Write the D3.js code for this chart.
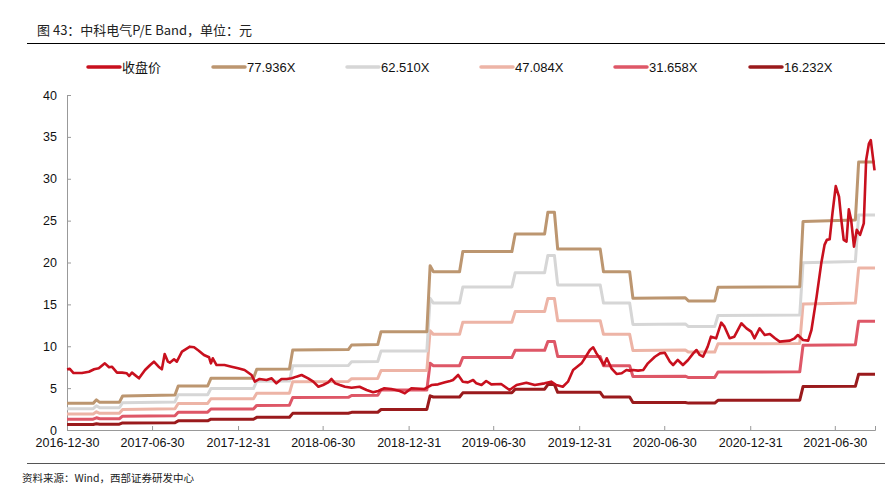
<!DOCTYPE html>
<html>
<head>
<meta charset="utf-8">
<script src="https://cdn.jsdelivr.net/npm/d3@7"></script>
<style>
  body { margin: 0; background: #fff; }
  svg { display: block; }
  text { font-family: "Liberation Sans", Arial, sans-serif; }
  .cjk { font-family: "Noto Sans CJK SC", sans-serif; }
</style>
</head>
<body>
<svg id="chart" width="891" height="486"></svg>
<script>
// closing price, weekly samples
const price = [
  ["2016-12-30", 7.25], ["2017-01-05", 7.3], ["2017-01-13", 6.8], ["2017-01-31", 6.8],
  ["2017-02-15", 6.96], ["2017-02-26", 7.25], ["2017-03-08", 7.37], ["2017-03-21", 7.96],
  ["2017-03-30", 7.5], ["2017-04-05", 7.56], ["2017-04-16", 6.85], ["2017-04-27", 6.85],
  ["2017-05-07", 6.77], ["2017-05-12", 6.45], ["2017-05-18", 6.85], ["2017-06-02", 6.17],
  ["2017-06-15", 7.16], ["2017-06-26", 7.76], ["2017-07-04", 8.16], ["2017-07-14", 7.56],
  ["2017-07-21", 7.25], ["2017-07-27", 9.07], ["2017-08-03", 8.16], ["2017-08-07", 8.04],
  ["2017-08-16", 8.44], ["2017-08-22", 8.16], ["2017-09-02", 9.35], ["2017-09-19", 9.95],
  ["2017-09-28", 9.88], ["2017-10-08", 9.47], ["2017-10-19", 8.96], ["2017-10-30", 8.68],
  ["2017-11-03", 7.96], ["2017-11-07", 8.56], ["2017-11-15", 7.76], ["2017-12-02", 7.76],
  ["2017-12-17", 7.56], ["2017-12-31", 7.37], ["2018-01-14", 7.16], ["2018-01-29", 6.57],
  ["2018-02-05", 5.77], ["2018-02-15", 6.09], ["2018-03-02", 5.97], ["2018-03-13", 6.17],
  ["2018-03-23", 5.57], ["2018-04-03", 6.09], ["2018-04-14", 6.09], ["2018-04-25", 6.17],
  ["2018-05-05", 6.37], ["2018-05-16", 6.57], ["2018-05-30", 6.17], ["2018-06-10", 5.77],
  ["2018-06-21", 5.17], ["2018-07-01", 5.37], ["2018-07-12", 5.69], ["2018-07-19", 6.09],
  ["2018-07-27", 5.57], ["2018-08-06", 5.37], ["2018-08-17", 5.17], ["2018-08-31", 5.05],
  ["2018-09-17", 5.17], ["2018-10-02", 4.78], ["2018-10-16", 4.5], ["2018-10-27", 4.66],
  ["2018-11-09", 4.98], ["2018-11-24", 4.9], ["2018-12-12", 4.66], ["2018-12-23", 4.38],
  ["2019-01-06", 4.98], ["2019-02-03", 4.9], ["2019-02-18", 5.37], ["2019-03-04", 5.45],
  ["2019-03-19", 5.69], ["2019-03-30", 5.85], ["2019-04-05", 5.97], ["2019-04-16", 6.57],
  ["2019-04-26", 5.77], ["2019-05-07", 5.69], ["2019-05-18", 5.97], ["2019-05-25", 5.57],
  ["2019-06-05", 5.37], ["2019-06-15", 5.85], ["2019-06-26", 5.45], ["2019-07-17", 5.49],
  ["2019-08-04", 4.78], ["2019-08-19", 5.37], ["2019-09-09", 5.65], ["2019-09-27", 5.37],
  ["2019-10-18", 5.57], ["2019-11-01", 5.77], ["2019-11-12", 5.37], ["2019-11-26", 5.17],
  ["2019-12-07", 5.77], ["2019-12-18", 7.16], ["2020-01-05", 7.96], ["2020-01-12", 8.56],
  ["2020-01-23", 9.55], ["2020-01-30", 9.88], ["2020-02-06", 9.15], ["2020-02-13", 8.56],
  ["2020-02-22", 7.76], ["2020-02-28", 8.56], ["2020-03-09", 7.37], ["2020-03-20", 6.69],
  ["2020-03-31", 6.77], ["2020-04-10", 7.16], ["2020-04-17", 7.09], ["2020-04-24", 7.16],
  ["2020-05-05", 7.09], ["2020-05-16", 7.16], ["2020-05-26", 7.96], ["2020-06-10", 8.75],
  ["2020-06-21", 9.15], ["2020-07-01", 9.23], ["2020-07-12", 8.16], ["2020-07-19", 7.76],
  ["2020-07-29", 8.36], ["2020-08-09", 7.76], ["2020-08-20", 8.36], ["2020-08-31", 9.15],
  ["2020-09-07", 9.55], ["2020-09-14", 8.96], ["2020-09-21", 8.75], ["2020-10-01", 9.95],
  ["2020-10-08", 11.14], ["2020-10-19", 10.95], ["2020-10-30", 12.82], ["2020-11-06", 12.34],
  ["2020-11-17", 10.95], ["2020-11-27", 11.14], ["2020-12-12", 12.74], ["2020-12-23", 12.14],
  ["2021-01-02", 11.74], ["2021-01-09", 10.95], ["2021-01-20", 12.14], ["2021-01-31", 11.34],
  ["2021-02-11", 11.46], ["2021-02-22", 10.95], ["2021-03-04", 10.55], ["2021-03-26", 10.67],
  ["2021-04-05", 10.95], ["2021-04-12", 11.34], ["2021-04-23", 10.75], ["2021-05-04", 10.67],
  ["2021-05-11", 11.94], ["2021-05-22", 15.9], ["2021-06-01", 19.9], ["2021-06-08", 22.1],
  ["2021-06-13", 22.7], ["2021-06-19", 22.77], ["2021-06-25", 25.9], ["2021-07-02", 29.13],
  ["2021-07-09", 27.86], ["2021-07-14", 25.07], ["2021-07-19", 22.7], ["2021-07-25", 22.5],
  ["2021-07-30", 26.35], ["2021-08-04", 25.07], ["2021-08-10", 21.9], ["2021-08-16", 23.9],
  ["2021-08-23", 23.3], ["2021-08-31", 24.67], ["2021-09-05", 32.2], ["2021-09-11", 34.2],
  ["2021-09-15", 34.6], ["2021-09-23", 31.0]
];

// dates where the band lines change level
const bandDates = [
  "2016-12-30", "2017-02-24", "2017-03-03", "2017-03-10", "2017-04-21", "2017-04-28",
  "2017-08-18", "2017-08-25", "2017-10-27", "2017-11-03", "2018-02-02", "2018-02-09",
  "2018-04-20", "2018-04-27", "2018-08-24", "2018-08-31", "2018-10-26", "2018-11-02",
  "2019-02-08", "2019-02-15", "2019-02-22", "2019-04-19", "2019-04-26", "2019-08-09",
  "2019-08-16", "2019-10-18", "2019-10-25", "2019-11-08", "2019-11-15", "2020-02-14",
  "2020-02-21", "2020-04-17", "2020-04-24", "2020-08-14", "2020-08-21", "2020-10-16",
  "2020-10-23", "2021-04-16", "2021-04-23", "2021-08-13", "2021-08-20", "2021-09-24"
];

const band77 = [3.18, 3.18, 3.60, 3.30, 3.30, 4.06, 4.18, 5.25, 5.25, 6.17, 6.17, 7.25, 7.28, 9.55,
  9.60, 10.15, 10.20, 11.74, 11.74, 19.60, 18.90, 18.90, 21.30, 21.30, 23.40, 23.40, 26.00, 26.00,
  21.60, 21.60, 18.90, 18.90, 15.72, 15.80, 15.40, 15.40, 17.04, 17.10, 24.90, 25.07, 32.00, 32.00];
const band62 = [2.55, 2.55, 2.89, 2.65, 2.65, 3.26, 3.35, 4.21, 4.21, 4.95, 4.95, 5.82, 5.84, 7.66,
  7.70, 8.14, 8.18, 9.42, 9.42, 15.72, 15.16, 15.16, 17.08, 17.08, 18.77, 18.77, 20.85, 20.85,
  17.32, 17.32, 15.16, 15.16, 12.61, 12.67, 12.35, 12.35, 13.67, 13.72, 19.97, 20.11, 25.67, 25.67];
const band47 = [1.92, 1.92, 2.17, 1.99, 1.99, 2.45, 2.53, 3.17, 3.17, 3.73, 3.73, 4.38, 4.40, 5.77,
  5.80, 6.13, 6.16, 7.09, 7.09, 11.84, 11.42, 11.42, 12.87, 12.87, 14.14, 14.14, 15.71, 15.71,
  13.05, 13.05, 11.42, 11.42, 9.50, 9.55, 9.30, 9.30, 10.29, 10.33, 15.04, 15.15, 19.33, 19.33];
const band31 = [1.29, 1.29, 1.46, 1.34, 1.34, 1.65, 1.70, 2.13, 2.13, 2.51, 2.51, 2.94, 2.96, 3.88,
  3.90, 4.12, 4.14, 4.77, 4.77, 7.96, 7.68, 7.68, 8.65, 8.65, 9.51, 9.51, 10.56, 10.56,
  8.77, 8.77, 7.68, 7.68, 6.39, 6.42, 6.26, 6.26, 6.92, 6.95, 10.11, 10.18, 13.00, 13.00];
const band16 = [0.66, 0.66, 0.75, 0.69, 0.69, 0.85, 0.87, 1.09, 1.09, 1.29, 1.29, 1.51, 1.52, 1.99,
  2.00, 2.11, 2.12, 2.45, 2.45, 4.08, 3.94, 3.94, 4.44, 4.44, 4.87, 4.87, 5.42, 5.42,
  4.50, 4.50, 3.94, 3.94, 3.27, 3.29, 3.21, 3.21, 3.55, 3.56, 5.19, 5.22, 6.66, 6.66];

const xTicks = ["2016-12-30", "2017-06-30", "2017-12-31", "2018-06-30", "2018-12-31",
  "2019-06-30", "2019-12-31", "2020-06-30", "2020-12-31", "2021-06-30"];
const yTicks = [0, 5, 10, 15, 20, 25, 30, 35, 40];

const series = [
  { name: "收盘价", values: null, color: "#C8101E", width: 2.6 },
  { name: "77.936X", values: band77, color: "#BC9670", width: 3 },
  { name: "62.510X", values: band62, color: "#D6D6D6", width: 3 },
  { name: "47.084X", values: band47, color: "#EDB4A6", width: 3 },
  { name: "31.658X", values: band31, color: "#DE5767", width: 3 },
  { name: "16.232X", values: band16, color: "#9A1A1C", width: 3 }
];

const parse = d3.timeParse("%Y-%m-%d");
const svg = d3.select("#chart");

const x = d3.scaleTime()
  .domain([parse("2016-12-30"), parse("2021-09-24")])
  .range([67, 875]);
const y = d3.scaleLinear().domain([0, 40]).range([430, 95]);

// title
svg.append("text").attr("class", "cjk")
  .attr("x", 37).attr("y", 35)
  .attr("font-size", 13).attr("fill", "#222")
  .text("图 43：中科电气P/E Band，单位：元");
svg.append("line").attr("x1", 27).attr("x2", 885).attr("y1", 43.5).attr("y2", 43.5)
  .attr("stroke", "#000").attr("stroke-width", 1);

// legend
const legendX = [88, 213, 347, 481, 615, 750];
const legend = svg.append("g");
series.forEach((s, i) => {
  legend.append("line")
    .attr("x1", legendX[i]).attr("x2", legendX[i] + 32)
    .attr("y1", 67).attr("y2", 67)
    .attr("stroke", s.color).attr("stroke-width", 3.5)
    .attr("stroke-linecap", "round");
  legend.append("text")
    .attr("class", i === 0 ? "cjk" : null)
    .attr("x", legendX[i] + 34).attr("y", 71.5)
    .attr("font-size", 13).attr("fill", "#111")
    .text(s.name);
});

// axes
const xAxis = svg.append("g")
  .attr("transform", "translate(0,430)")
  .call(d3.axisBottom(x)
    .tickValues(xTicks.map(parse))
    .tickFormat(d3.timeFormat("%Y-%m-%d"))
    .tickSize(-4).tickPadding(8));
xAxis.select(".domain").attr("stroke", "#999");
xAxis.selectAll(".tick line").attr("stroke", "#999");
xAxis.selectAll("text").attr("font-size", 12.5).attr("fill", "#111")
  .attr("font-family", "'Liberation Sans', Arial, sans-serif");

const yAxis = svg.append("g")
  .attr("transform", "translate(67,0)")
  .call(d3.axisLeft(y).tickValues(yTicks).tickSize(-4).tickPadding(10));
yAxis.select(".domain").attr("stroke", "#999");
yAxis.selectAll(".tick line").attr("stroke", "#999");
yAxis.selectAll("text").attr("font-size", 12.5).attr("fill", "#111")
  .attr("font-family", "'Liberation Sans', Arial, sans-serif");

// lines
const line = d3.line()
  .x(d => x(d[0]))
  .y(d => y(d[1]));

const plot = svg.append("g");
series.slice(1).reverse().forEach(s => {
  const pts = bandDates.map((d, i) => [parse(d), s.values[i]]);
  plot.append("path")
    .datum(pts)
    .attr("fill", "none")
    .attr("stroke", s.color)
    .attr("stroke-width", s.width)
    .attr("stroke-linejoin", "round")
    .attr("d", line);
});

plot.append("path")
  .datum(price.map(d => [parse(d[0]), d[1]]))
  .attr("fill", "none")
  .attr("stroke", series[0].color)
  .attr("stroke-width", series[0].width)
  .attr("stroke-linejoin", "round")
  .attr("d", line);

// footer
svg.append("line").attr("x1", 27).attr("x2", 885).attr("y1", 463.5).attr("y2", 463.5)
  .attr("stroke", "#555").attr("stroke-width", 1);
svg.append("text").attr("class", "cjk")
  .attr("x", 22).attr("y", 482)
  .attr("font-size", 10.5).attr("fill", "#222")
  .text("资料来源：Wind，西部证券研发中心");
</script>
</body>
</html>
